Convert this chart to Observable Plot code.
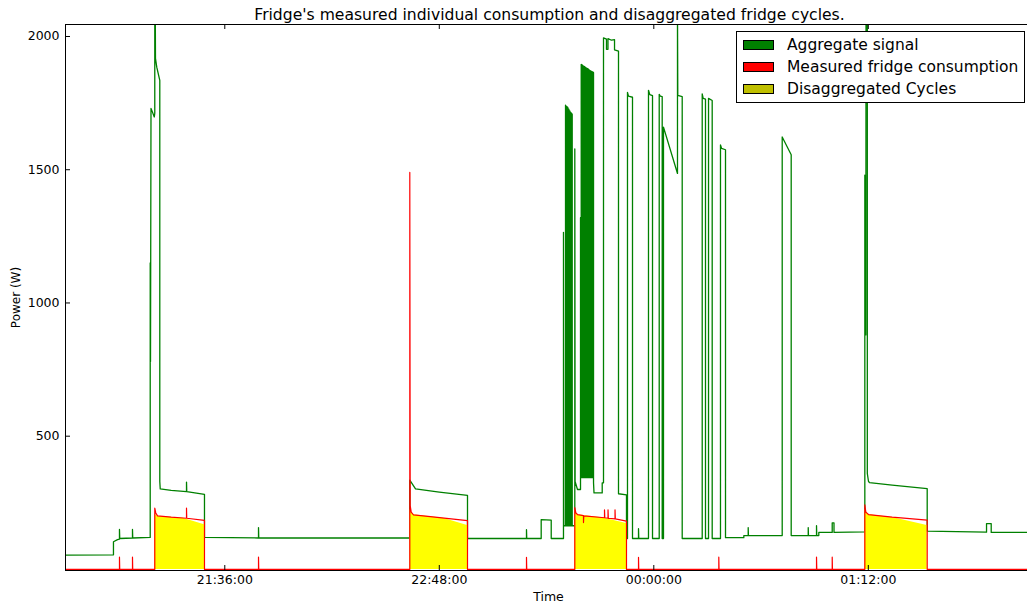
<!DOCTYPE html>
<html>
<head>
<meta charset="utf-8">
<script src="https://cdn.jsdelivr.net/npm/d3@7"></script>
<script src="https://cdn.jsdelivr.net/npm/@observablehq/plot@0.6"></script>
<style>
  body { margin: 0; background: #fff; }
  #wrap { position: relative; width: 1027px; height: 603px; font-family: "DejaVu Sans", sans-serif; color: #000; }
  #legend { position: absolute; left: 736px; top: 31px; width: 289px; height: 72px; box-sizing: border-box; border: 1px solid #000; background: #fff; }
  .patch { position: absolute; left: 6px; width: 31px; height: 10px; box-sizing: border-box; border: 1px solid #000; }
  .ltext { position: absolute; left: 50px; height: 18px; line-height: 18px; font-size: 15.5px; white-space: nowrap; }
</style>
</head>
<body>
<div id="wrap"></div>
<script>
// ---------------- data ----------------
const chartTitle = "Fridge's measured individual consumption and disaggregated fridge cycles.";
const xLabel = "Time";
const yLabel = "Power (W)";
const xStart = "20:42:32";
const xEnd = "02:05:26";
const xTicks = ["21:36:00", "22:48:00", "00:00:00", "01:12:00"];
const yTicks = [500, 1000, 1500, 2000];
const yMax = 2045;

const legendLabels = ["Aggregate signal", "Measured fridge consumption", "Disaggregated Cycles"];
const legendColors = ["#008000", "#ff0000", "#bfbf00"];

// Aggregate signal [clock time, watts]
const aggregateSignal = [
  ["20:42:32",54],["20:58:38",55],["20:58:38",104],["21:00:00",112],["21:00:39",114],["21:00:39",150],["21:00:44",116],
  ["21:05:01",118],["21:05:01",150],["21:05:06",118],
  ["21:10:58",120],["21:10:58",1150],["21:11:04",780],["21:11:14",1730],["21:11:40",1718],["21:12:20",1698],["21:12:30",1712],
  ["21:12:30",2100],["21:12:40",2100],["21:12:44",1918],["21:13:10",1885],["21:14:11",1835],["21:14:11",330],["21:14:20",302],
  ["21:18:00",297],["21:23:09",292],["21:23:09",328],["21:23:14",292],["21:29:11",282],["21:29:11",120],
  ["21:47:19",118],["21:47:19",157],["21:47:24",118],
  ["22:38:06",118],["22:38:06",335],["22:40:01",302],["22:48:00",290],["22:57:28",278],["22:57:28",116],
  ["23:17:16",116],["23:17:16",149],["23:17:21",116],
  ["23:22:12",116],["23:22:12",187],["23:25:34",185],["23:25:34",116],
  ["23:29:41",116],["23:29:41",1265],["23:29:46",164],
  ["23:30:22",164],["23:30:22",1742],["23:30:30",1740],["23:30:30",164],
  ["23:30:42",164],["23:30:42",1738],["23:30:50",1736],["23:30:50",164],
  ["23:31:02",164],["23:31:02",1735],["23:31:10",1732],["23:31:10",164],
  ["23:31:22",164],["23:31:22",1728],["23:31:30",1726],["23:31:30",164],
  ["23:31:42",164],["23:31:42",1722],["23:31:50",1720],["23:31:50",164],
  ["23:32:02",164],["23:32:02",1716],["23:32:10",1714],["23:32:10",164],
  ["23:32:22",164],["23:32:22",1712],["23:32:37",1708],["23:32:37",164],
  ["23:33:29",164],["23:33:29",1578],["23:33:35",330],["23:34:23",300],["23:35:24",300],["23:35:24",1320],["23:35:30",347],
  ["23:35:38",345],["23:35:38",1895],["23:35:46",1893],["23:35:46",345],
  ["23:35:58",345],["23:35:58",1893],["23:36:06",1891],["23:36:06",345],
  ["23:36:18",345],["23:36:18",1890],["23:36:26",1888],["23:36:26",345],
  ["23:36:38",345],["23:36:38",1888],["23:36:46",1886],["23:36:46",345],
  ["23:36:58",345],["23:36:58",1885],["23:37:06",1883],["23:37:06",345],
  ["23:37:18",345],["23:37:18",1882],["23:37:26",1880],["23:37:26",345],
  ["23:37:38",345],["23:37:38",1880],["23:37:46",1878],["23:37:46",345],
  ["23:37:58",345],["23:37:58",1878],["23:38:06",1876],["23:38:06",345],
  ["23:38:18",345],["23:38:18",1875],["23:38:26",1873],["23:38:26",345],
  ["23:38:38",345],["23:38:38",1872],["23:38:46",1870],["23:38:46",345],
  ["23:38:58",345],["23:38:58",1870],["23:39:06",1868],["23:39:06",345],
  ["23:39:18",345],["23:39:18",1868],["23:39:26",1866],["23:39:26",345],
  ["23:39:38",345],["23:39:38",1866],["23:39:46",1864],["23:39:46",325],
  ["23:39:56",287],["23:42:41",287],["23:42:41",325],["23:43:07",325],["23:43:07",1995],["23:44:07",1990],["23:44:07",1952],
  ["23:44:37",1952],["23:44:37",1992],["23:45:48",1986],["23:46:49",1988],["23:46:49",1950],["23:48:09",1945],["23:48:09",284],
  ["23:50:50",280],["23:50:50",116],
  ["23:51:10",116],["23:51:10",1790],["23:51:30",1776],["23:52:51",1772],["23:52:51",116],
  ["23:54:52",116],["23:54:52",153],["23:54:57",116],
  ["23:58:13",116],["23:58:13",1798],["23:58:40",1782],["23:59:34",1778],["23:59:34",116],
  ["00:01:49",116],["00:01:49",1783],["00:02:10",1776],["00:02:49",1774],["00:02:49",116],
  ["00:03:15",116],["00:03:15",1660],["00:07:57",1486],["00:07:57",2100],["00:08:03",1779],["00:09:32",1774],["00:09:32",116],
  ["00:16:15",116],["00:16:15",1785],["00:16:35",1768],["00:17:21",1765],["00:17:21",116],
  ["00:18:22",116],["00:18:22",1768],["00:19:36",1760],["00:19:36",116],
  ["00:22:23",116],["00:22:23",1593],["00:22:45",1580],["00:24:04",1575],["00:24:04",119],
  ["00:30:13",119],["00:30:13",127],["00:31:41",127],["00:31:41",157],["00:31:46",127],
  ["00:43:06",127],["00:43:06",1623],["00:46:07",1556],["00:46:07",127],
  ["00:51:50",127],["00:51:50",157],["00:51:55",127],
  ["00:54:37",127],["00:54:37",164],["00:54:42",127],["00:55:23",127],["00:55:23",139],
  ["00:59:53",139],["00:59:53",175],["01:00:29",175],["01:00:29",139],
  ["01:10:50",141],["01:10:50",1480],["01:11:00",880],["01:11:04",1340],["01:11:10",880],["01:11:14",2100],["01:11:40",2100],
  ["01:11:40",360],["01:12:04",330],["01:12:24",326],["01:20:00",316],["01:31:46",303],["01:31:46",144],
  ["01:51:41",140],["01:51:41",172],["01:53:15",172],["01:53:15",139],["02:05:26",139]
];

// Measured fridge consumption [clock time, watts]
const measuredFridge = [
  ["20:42:32",0],
  ["21:00:39",0],["21:00:39",46],["21:00:44",0],
  ["21:05:01",0],["21:05:01",46],["21:05:06",0],
  ["21:12:30",0],["21:12:30",230],["21:12:50",212],["21:13:25",201],["21:18:00",196],["21:23:09",192],["21:23:09",230],["21:23:14",192],["21:29:11",184],["21:29:11",0],
  ["21:47:19",0],["21:47:19",46],["21:47:24",0],
  ["22:38:06",0],["22:38:06",1490],["22:38:14",240],["22:38:34",215],["22:39:20",205],["22:45:00",198],["22:52:00",190],["22:57:28",183],["22:57:28",0],
  ["23:17:16",0],["23:17:16",45],["23:17:21",0],
  ["23:33:29",0],["23:33:29",232],["23:33:50",212],["23:34:23",206],["23:36:24",202],["23:36:24",176],["23:36:30",201],
  ["23:43:27",194],["23:43:27",224],["23:43:33",194],["23:44:38",192],["23:44:38",224],["23:44:44",192],
  ["23:46:59",190],["23:46:59",224],["23:47:05",190],["23:50:50",181],["23:50:50",0],
  ["23:54:52",0],["23:54:52",45],["23:54:57",0],
  ["00:21:49",0],["00:21:49",46],["00:21:54",0],
  ["00:54:37",0],["00:54:37",46],["00:54:42",0],
  ["00:59:53",0],["00:59:53",46],["00:59:58",0],
  ["01:10:50",0],["01:10:50",242],["01:11:10",215],["01:12:04",206],["01:20:00",196],["01:31:46",185],["01:31:46",0],
  ["02:05:26",0]
];

// Disaggregated cycles, one list per cycle [clock time, watts]
const cycleA = [["21:12:30",208],["21:13:25",200],["21:22:00",192],["21:29:11",168]];
const cycleB = [["22:38:06",225],["22:39:20",205],["22:49:20",192],["22:57:28",165]];
const cycleC = [["23:33:29",225],["23:34:23",205],["23:42:41",194],["23:50:50",172]];
const cycleD = [["01:10:50",225],["01:12:04",206],["01:20:27",194],["01:31:46",165]];

// ---------------- build ----------------
const parse = s => {
  const [h, m, sec] = s.split(":").map(Number);
  const day = h >= 12 ? 1 : 2;
  return new Date(Date.UTC(2013, 0, day, h, m, sec));
};
const toRows = arr => arr.map(([t, w]) => ({time: parse(t), watts: w}));
const agg = toRows(aggregateSignal);
const fridge = toRows(measuredFridge);
const cycles = [cycleA, cycleB, cycleC, cycleD].flatMap((c, i) => c.map(([t, w]) => ({cycle: i, time: parse(t), watts: w})));
const xTickDates = xTicks.map(parse);
const fmt = d3.utcFormat("%H:%M:%S");

const chart = Plot.plot({
  width: 1027, height: 603,
  marginLeft: 65, marginRight: 0, marginTop: 24, marginBottom: 33,
  style: {fontFamily: '"DejaVu Sans", sans-serif', fontSize: "12.5px", color: "#000", background: "#fff"},
  x: {type: "utc", domain: [parse(xStart), parse(xEnd)]},
  y: {domain: [-4, yMax]},
  marks: [
    Plot.lineY(agg, {x: "time", y: "watts", stroke: "#008000", strokeWidth: 1.3, clip: true}),
    Plot.areaY(cycles, {x: "time", y: "watts", z: "cycle", fill: "#ffff00", clip: true}),
    Plot.lineY(fridge, {x: "time", y: "watts", stroke: "#ff0000", strokeWidth: 1.2, clip: true}),
    // spines
    Plot.ruleX([parse(xStart)], {stroke: "#000"}),
    Plot.ruleY([-4, yMax], {stroke: "#000"}),
    // inward ticks
    Plot.ruleX(xTickDates, {x: d => d, insetTop: 541, stroke: "#000"}),
    Plot.ruleX(xTickDates, {x: d => d, insetBottom: 541, stroke: "#000"}),
    Plot.ruleY(yTicks, {y: d => d, insetRight: 957, stroke: "#000"}),
    // tick labels
    Plot.axisX({ticks: xTickDates, tickSize: 0, tickPadding: 5, tickFormat: fmt, label: null, fontSize: 12.5}),
    Plot.axisY({ticks: yTicks, tickSize: 0, tickPadding: 6, tickFormat: d => String(d), label: null, fontSize: 12.5}),
    // titles
    Plot.text([chartTitle], {text: d => d, frameAnchor: "top", lineAnchor: "middle", dx: 3, dy: -10, fontSize: 15.6}),
    Plot.text([xLabel], {text: d => d, frameAnchor: "bottom", lineAnchor: "middle", dx: 2, dy: 26, fontSize: 12.5}),
    Plot.text([yLabel], {text: d => d, frameAnchor: "left", textAnchor: "middle", lineAnchor: "middle", dx: -49, rotate: -90, fontSize: 12})
  ]
});

const wrap = document.getElementById("wrap");
wrap.appendChild(chart);

const legend = document.createElement("div");
legend.id = "legend";
legendLabels.forEach((label, i) => {
  const p = document.createElement("div");
  p.className = "patch";
  p.style.top = (8 + 22 * i) + "px";
  p.style.background = legendColors[i];
  legend.appendChild(p);
  const t = document.createElement("div");
  t.className = "ltext";
  t.style.top = (4 + 22 * i) + "px";
  t.textContent = label;
  legend.appendChild(t);
});
wrap.appendChild(legend);
</script>
</body>
</html>
